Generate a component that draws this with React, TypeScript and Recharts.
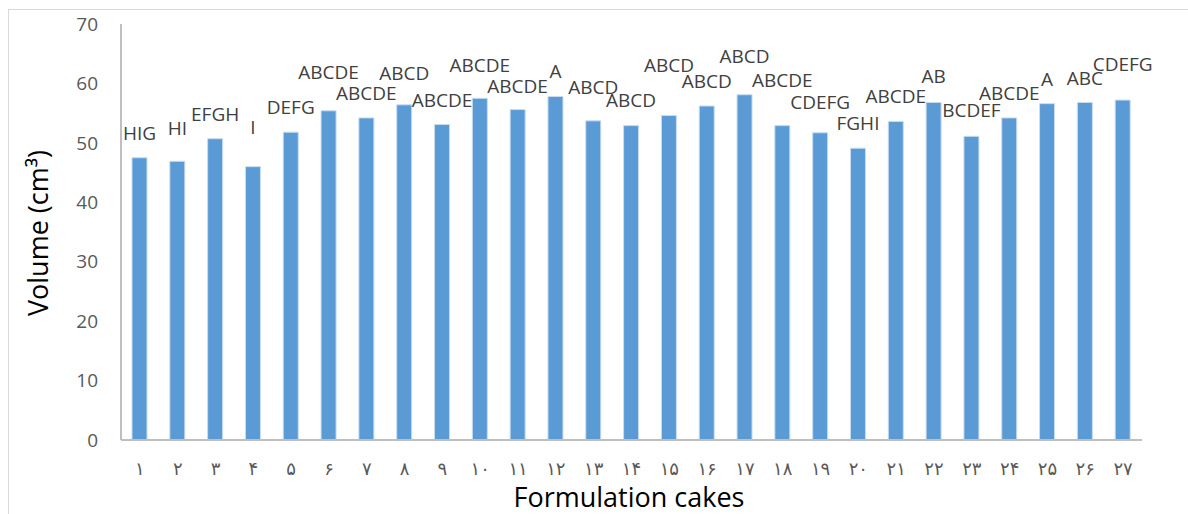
import { BarChart, Bar, XAxis, YAxis, LabelList, Label } from 'recharts';

// formulation numbers as printed on the axis (Persian digits)
const formulations = [
  '۱', '۲', '۳', '۴', '۵', '۶', '۷', '۸', '۹', '۱۰',
  '۱۱', '۱۲', '۱۳', '۱۴', '۱۵', '۱۶', '۱۷', '۱۸', '۱۹', '۲۰',
  '۲۱', '۲۲', '۲۳', '۲۴', '۲۵', '۲۶', '۲۷',
];

// cake volume, cm3
const volumes = [
  47.5, 46.9, 50.7, 46.0, 51.8, 55.4, 54.2, 56.4, 53.1, 57.5,
  55.6, 57.8, 53.7, 52.9, 54.6, 56.2, 58.1, 52.9, 51.7, 49.1,
  53.6, 56.8, 51.1, 54.2, 56.6, 56.8, 57.2,
];

// Duncan groups printed over each bar
const groups = [
  'HIG', 'HI', 'EFGH', 'I', 'DEFG', 'ABCDE', 'ABCDE', 'ABCD', 'ABCDE', 'ABCDE',
  'ABCDE', 'A', 'ABCD', 'ABCD', 'ABCD', 'ABCD', 'ABCD', 'ABCDE', 'CDEFG', 'FGHI',
  'ABCDE', 'AB', 'BCDEF', 'ABCDE', 'A', 'ABC', 'CDEFG',
];

const yTicks = [0, 10, 20, 30, 40, 50, 60, 70];

const data = formulations.map((name, i) => ({
  name,
  volume: volumes[i],
  group: groups[i],
}));

// labels were dragged around by hand in the original, so each sits a bit differently
const labelRaise = [
  25, 33, 25, 40, 25, 39, 25, 32, 24, 33, 24, 26, 34, 26, 51, 25, 39, 46, 31, 25,
  25, 26, 26, 25, 25, 24, 36,
];

const FONT = '"Open Sans", "DejaVu Sans", sans-serif';

const GroupLabel = (props: any) => {
  const { x, y, width, index, value } = props;
  return (
    <text
      x={x + width / 2}
      y={y - labelRaise[index]}
      textAnchor="middle"
      dominantBaseline="central"
      fontFamily={FONT}
      fontSize={19}
      fill="#404040"
    >
      {value}
    </text>
  );
};

export default function App() {
  return (
    <div
      style={{
        position: 'absolute',
        left: 0,
        top: 0,
        width: 1188,
        height: 514,
        overflow: 'hidden',
        background: '#fff',
      }}
    >
      <div
        style={{
          position: 'absolute',
          left: 8,
          top: 9,
          width: 1200,
          height: 520,
          border: '1px solid #d9d9d9',
        }}
      />
      <div style={{ position: 'absolute', left: 0, top: 0 }}>
        <BarChart
          width={1188}
          height={514}
          data={data}
          margin={{ top: 24, right: 46, bottom: 0, left: 0 }}
          barSize={15}
        >
          <YAxis
            domain={[0, 70]}
            ticks={yTicks}
            width={121}
            tickLine={false}
            tickSize={0}
            tickMargin={23}
            axisLine={{ stroke: '#bfbfbf', strokeWidth: 2 }}
            tick={{ fill: '#595959', fontSize: 19, fontFamily: FONT }}
          >
            <Label
              content={() => (
                <text
                  x={37}
                  y={233}
                  transform="rotate(-90 37 233)"
                  textAnchor="middle"
                  dominantBaseline="central"
                  fontFamily={FONT}
                  fontSize={27}
                  fill="#000"
                >
                  Volume (cm³)
                </text>
              )}
            />
          </YAxis>
          <XAxis
            dataKey="name"
            height={74}
            interval={0}
            tickLine={false}
            tickSize={0}
            tickMargin={22}
            axisLine={{ stroke: '#bfbfbf', strokeWidth: 2 }}
            tick={{ fill: '#595959', fontSize: 18, fontFamily: '"DejaVu Sans", sans-serif' }}
          >
            <Label
              content={() => (
                <text
                  x={629}
                  y={496}
                  textAnchor="middle"
                  dominantBaseline="central"
                  fontFamily={FONT}
                  fontSize={27}
                  fill="#000"
                >
                  Formulation cakes
                </text>
              )}
            />
          </XAxis>
          <Bar dataKey="volume" fill="#5b9bd5" stroke="#c9dcf0" strokeWidth={1} isAnimationActive={false}>
            <LabelList dataKey="group" content={GroupLabel} />
          </Bar>
        </BarChart>
      </div>
    </div>
  );
}
